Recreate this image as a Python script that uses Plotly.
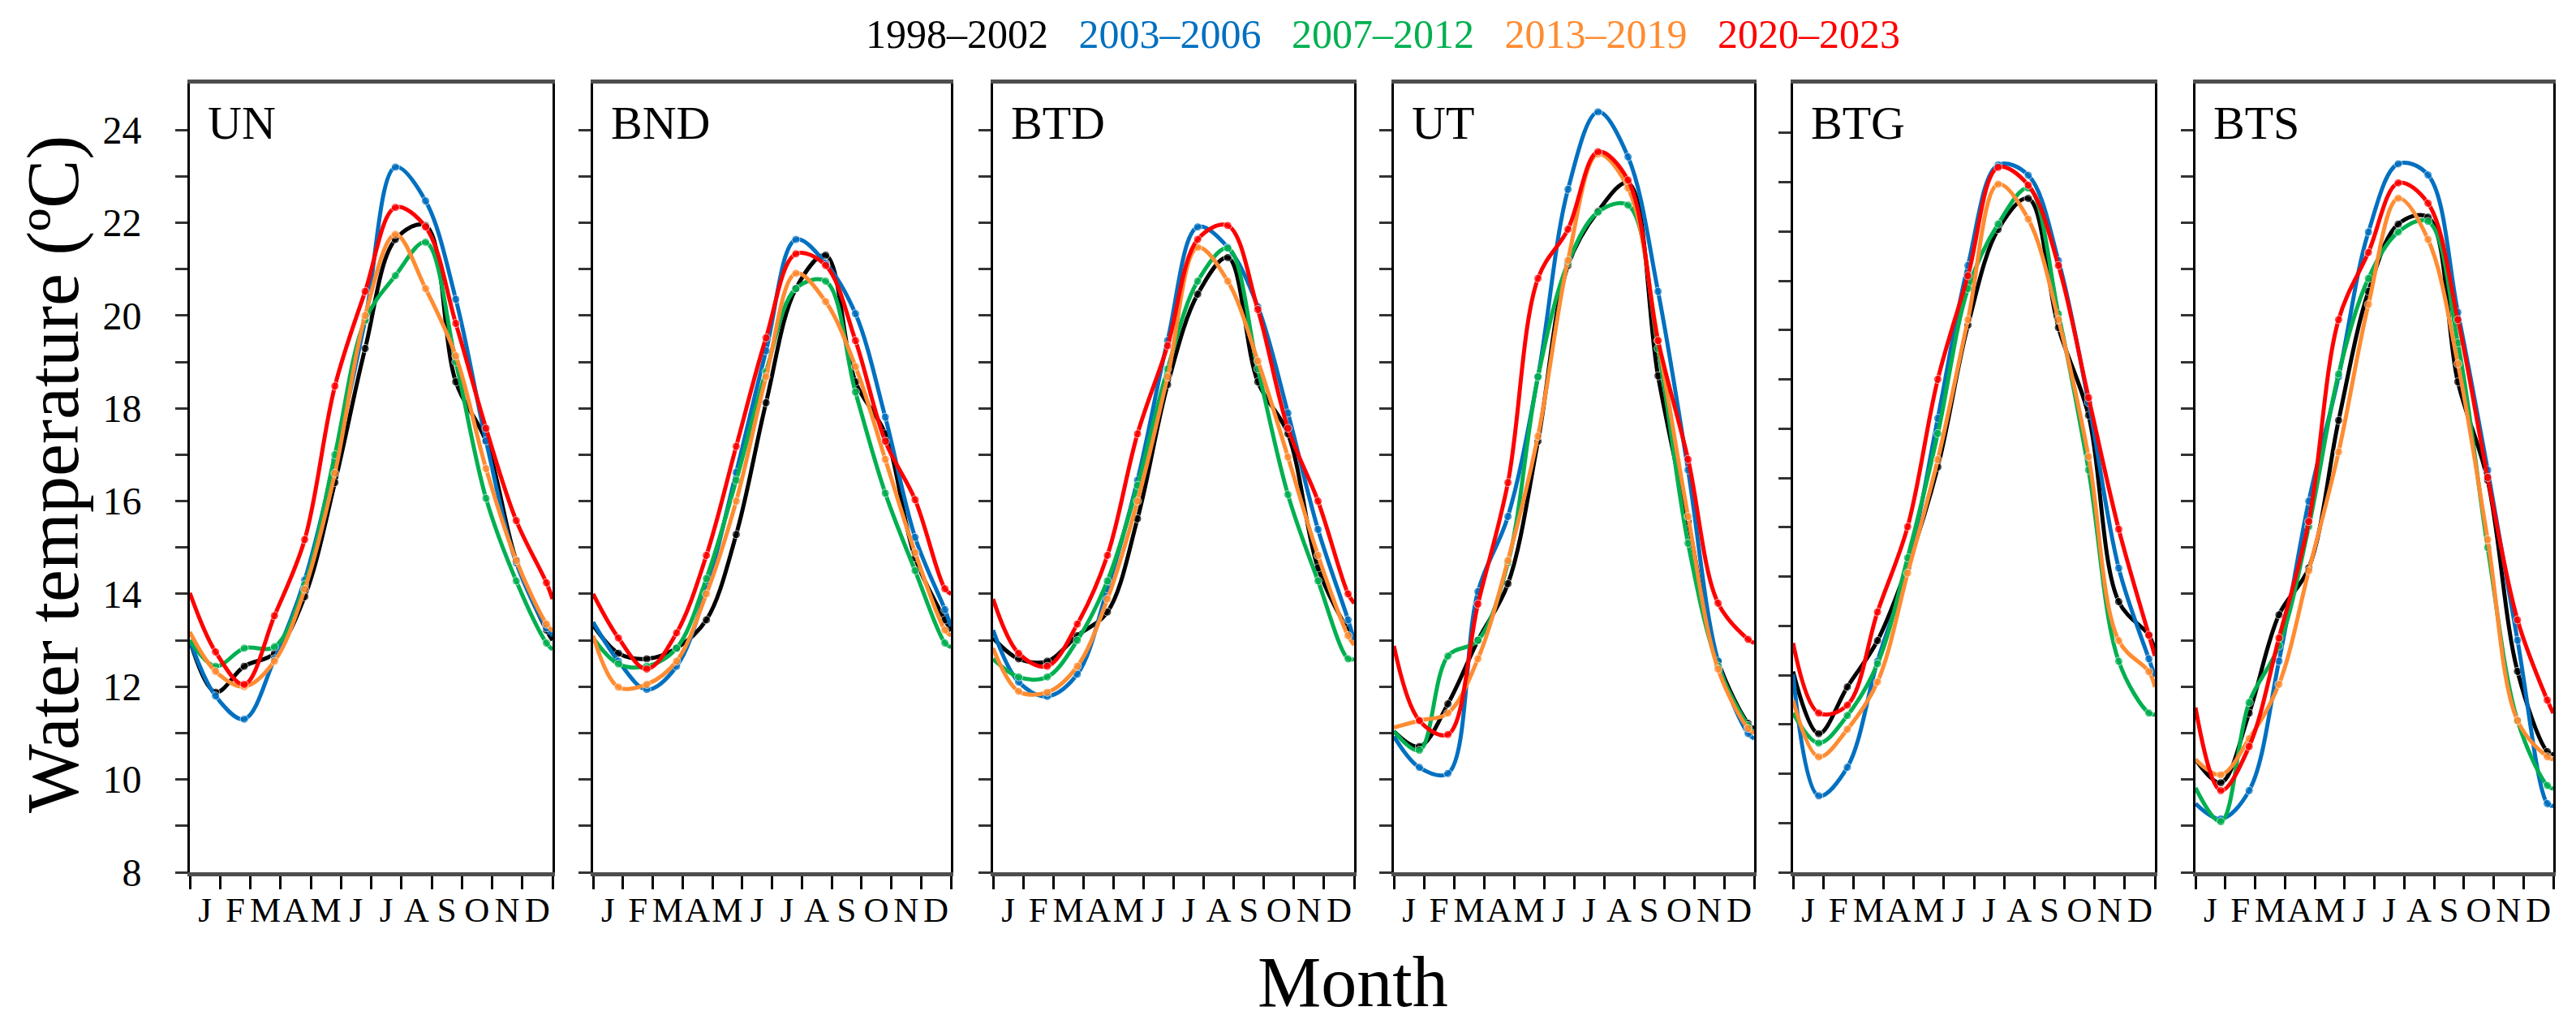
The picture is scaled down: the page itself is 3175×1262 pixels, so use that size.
# seasonal water temperature curves per station, one panel per station

import plotly.graph_objects as go

# x position of each value in months (0 = start of Jan, 12 = end of Dec)
month_pos = [0, 0.85, 1.8, 2.8, 3.8, 4.8, 5.8, 6.8, 7.8, 8.8, 9.8, 10.8, 11.8, 12]
month_letters = ["J", "F", "M", "A", "M", "J", "J", "A", "S", "O", "N", "D"]

periods = ["1998–2002", "2003–2006", "2007–2012", "2013–2019", "2020–2023"]
colors = ["#000000", "#0070C0", "#00B050", "#FF8C32", "#FF0000"]

stations = ["UN", "BND", "BTD", "UT", "BTG", "BTS"]

# one row per period, same order as periods
UN = [
    [13.0, 11.88, 12.44, 12.72, 13.94, 16.4, 19.29, 21.64, 21.94, 18.57, 17.29, 14.72, 13.22, 13.0],
    [13.0, 11.8, 11.3, 12.6, 14.3, 16.9, 19.9, 23.2, 22.47, 20.35, 17.3, 14.67, 13.27, 13.1],
    [13.0, 12.44, 12.83, 12.86, 14.2, 17.0, 19.9, 20.86, 21.58, 19.0, 16.06, 14.28, 12.94, 12.8],
    [13.18, 12.33, 12.0, 12.55, 14.1, 16.6, 20.0, 21.75, 20.58, 19.13, 16.7, 14.72, 13.35, 13.2],
    [14.02, 12.75, 12.05, 13.53, 15.17, 18.48, 20.52, 22.33, 21.91, 19.83, 17.57, 15.58, 14.24, 13.89],
]
BND = [
    [13.33, 12.72, 12.6, 12.83, 13.44, 15.28, 18.12, 20.58, 21.3, 18.57, 17.45, 14.78, 13.44, 13.2],
    [13.39, 12.55, 11.94, 12.44, 14.11, 16.62, 19.24, 21.64, 21.13, 20.04, 17.81, 15.22, 13.66, 13.3],
    [13.05, 12.49, 12.44, 12.83, 14.33, 16.45, 18.79, 20.58, 20.74, 18.35, 16.17, 14.5, 12.94, 12.85],
    [13.1, 11.99, 12.05, 12.55, 14.0, 16.0, 18.68, 20.91, 20.3, 18.9, 16.9, 14.89, 13.22, 13.1],
    [14.0, 13.05, 12.38, 13.16, 14.83, 17.18, 19.52, 21.33, 21.08, 19.46, 17.29, 16.03, 14.11, 14.0],
]
BTD = [
    [13.05, 12.6, 12.55, 13.1, 13.61, 15.62, 18.51, 20.46, 21.25, 18.57, 17.45, 14.56, 13.22, 13.05],
    [13.22, 12.1, 11.79, 12.27, 14.11, 16.45, 19.46, 21.91, 21.47, 20.19, 17.9, 15.39, 13.44, 13.0],
    [12.6, 12.21, 12.21, 13.0, 14.28, 16.34, 18.85, 20.74, 21.45, 18.85, 16.14, 14.28, 12.6, 12.6],
    [12.83, 11.9, 11.88, 12.44, 13.89, 16.0, 18.68, 21.47, 20.74, 19.02, 16.95, 14.83, 13.1, 12.9],
    [13.89, 12.72, 12.44, 13.35, 14.83, 17.45, 19.35, 21.64, 21.94, 20.13, 17.57, 16.0, 14.0, 13.8],
]
UT = [
    [11.04, 10.71, 11.63, 13.0, 14.22, 17.29, 21.08, 22.25, 22.86, 18.7, 15.56, 12.55, 11.21, 11.1],
    [10.93, 10.26, 10.13, 14.05, 15.67, 18.68, 22.72, 24.39, 23.42, 20.52, 16.67, 12.55, 10.99, 10.88],
    [11.04, 10.63, 12.66, 13.0, 14.67, 18.68, 21.13, 22.23, 22.38, 19.29, 15.09, 12.44, 11.16, 11.0],
    [11.12, 11.27, 11.43, 12.6, 14.72, 17.4, 21.19, 23.48, 22.75, 19.46, 15.67, 12.38, 11.1, 11.0],
    [12.88, 11.27, 10.97, 13.78, 16.4, 20.8, 21.86, 23.53, 22.92, 19.46, 16.9, 13.8, 13.02, 12.94],
]
BTG = [
    [12.07, 10.81, 11.76, 12.7, 14.22, 16.22, 19.1, 21.04, 21.67, 19.05, 17.27, 13.49, 12.81, 12.49],
    [12.02, 9.55, 10.13, 12.28, 14.17, 17.21, 20.31, 22.35, 22.14, 20.41, 17.53, 14.17, 12.33, 11.97],
    [11.23, 10.62, 11.18, 12.23, 14.38, 16.9, 19.84, 21.15, 21.88, 19.33, 16.16, 12.28, 11.23, 11.2],
    [11.49, 10.34, 10.9, 11.86, 14.07, 16.37, 19.21, 21.96, 21.25, 19.21, 16.43, 12.7, 12.07, 11.76],
    [12.65, 11.23, 11.39, 13.28, 15.01, 18.0, 20.1, 22.3, 21.94, 20.31, 17.63, 14.96, 12.81, 12.39],
]
BTS = [
    [10.43, 9.93, 11.43, 13.55, 14.56, 17.74, 20.52, 21.97, 22.12, 18.57, 16.45, 12.33, 10.6, 10.54],
    [9.48, 9.15, 9.76, 12.55, 16.0, 18.68, 21.8, 23.27, 23.03, 20.07, 16.67, 13.0, 9.48, 9.43],
    [9.82, 9.09, 11.66, 12.88, 15.45, 18.74, 20.8, 21.8, 22.03, 19.41, 15.0, 11.27, 9.87, 9.8],
    [10.43, 10.1, 10.88, 12.05, 14.5, 17.06, 20.24, 22.53, 21.64, 18.96, 15.17, 11.27, 10.49, 10.43],
    [11.55, 9.76, 10.71, 13.05, 15.56, 19.91, 21.36, 22.86, 22.42, 19.91, 16.51, 13.44, 11.71, 11.43],
]
station_data = [UN, BND, BTD, UT, BTG, BTS]
y_top = [25, 25, 25, 25, 24, 25]  # BTG panel is drawn on a shorter scale

# page geometry in pixels
W, H = 3175, 1262
ml, mr, mt, mb = 226, 36, 95, 195
pw, ph = W - ml - mr, H - mt - mb
panel_left = [226, 723, 1216, 1710, 2202, 2698]
panel_right = [673, 1164, 1661, 2154, 2648, 3139]

def fx(p):
    return (p - ml) / pw

def fy(p):
    return (H - mb - p) / ph

serif = "Liberation Serif, Times New Roman, serif"

fig = go.Figure()
layout = {}
annotations = []

for i, (name, rows) in enumerate(zip(stations, station_data)):
    k = "" if i == 0 else str(i + 1)
    for period, col, vals in zip(periods, colors, rows):
        sizes = [0] + [10] * (len(vals) - 2) + [0]
        fig.add_trace(go.Scatter(
            x=month_pos, y=vals, name=period, mode="lines+markers",
            line=dict(color=col, width=5, shape="spline", smoothing=1),
            marker=dict(color=col, size=sizes),
            xaxis="x" + k, yaxis="y" + k, showlegend=False,
        ))

    ticks_y = list(range(8, 24 if y_top[i] == 24 else 25))
    layout["xaxis" + k] = dict(
        domain=[fx(panel_left[i]), fx(panel_right[i])], anchor="y" + k,
        range=[0, 12], tickmode="array",
        tickvals=[m + 0.5 for m in range(12)], ticktext=month_letters,
        ticks="", ticklabelstandoff=4,
        tickfont=dict(family=serif, size=43, color="black"),
        minor=dict(tickmode="array", tickvals=list(range(13)), ticks="outside",
                   ticklen=16, tickwidth=3, tickcolor="black", showgrid=False),
        showline=True, linecolor="#4d4d4d", linewidth=5, mirror=True,
        showgrid=False, zeroline=False, fixedrange=True,
    )
    layout["yaxis" + k] = dict(
        domain=[0, 1], anchor="x" + k, range=[8, y_top[i]],
        tickmode="array", tickvals=ticks_y,
        ticktext=[str(v) if v % 2 == 0 else "" for v in ticks_y],
        showticklabels=(i == 0), ticks="outside", ticklen=15, tickwidth=3,
        tickcolor="#333333", ticklabelstandoff=32,
        tickfont=dict(family=serif, size=48, color="black"),
        showline=True, linecolor="black", linewidth=3, mirror=True,
        showgrid=False, zeroline=False, fixedrange=True,
    )
    annotations.append(dict(
        text=name, x=fx(panel_left[i] + 20), y=fy(144), xref="paper", yref="paper",
        xanchor="left", yanchor="middle", showarrow=False,
        font=dict(family=serif, size=58, color="black"),
    ))

legend_text = "\u00a0\u00a0\u00a0".join(
    f"<span style='color:{c}'>{p}</span>" for p, c in zip(periods, colors)
)
annotations.append(dict(
    text=legend_text, x=fx(1696), y=fy(34), xref="paper", yref="paper",
    xanchor="center", yanchor="middle", showarrow=False,
    font=dict(family=serif, size=50, color="black"),
))
annotations.append(dict(
    text="Water temperature (ºC)", x=fx(58), y=fy(577), xref="paper", yref="paper",
    xanchor="center", yanchor="middle", textangle=-90, showarrow=False,
    font=dict(family=serif, size=90, color="black"),
))
annotations.append(dict(
    text="Month", x=fx(1659), y=fy(1202), xref="paper", yref="paper",
    xanchor="center", yanchor="middle", showarrow=False,
    font=dict(family=serif, size=88, color="black"),
))

fig.update_layout(
    width=W, height=H,
    margin=dict(l=ml, r=mr, t=mt, b=mb, autoexpand=False),
    plot_bgcolor="white", paper_bgcolor="white",
    annotations=annotations, showlegend=False,
    **layout,
)

fig.write_html("out.html")
